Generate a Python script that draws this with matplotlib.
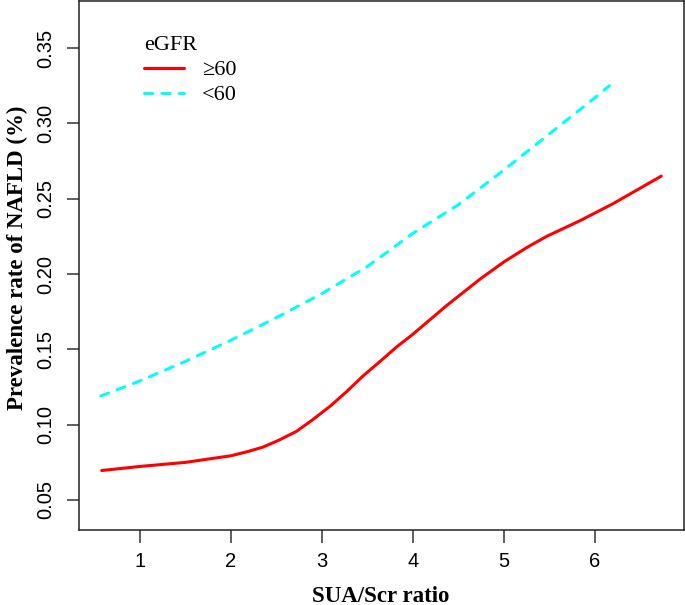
import numpy as np
import matplotlib
matplotlib.use('Agg')
import matplotlib.pyplot as plt
from matplotlib.ticker import MultipleLocator, FormatStrFormatter

# eGFR >= 60
x_hi = [0.58, 1.0, 1.5, 2.0, 2.18, 2.355, 2.54, 2.72, 2.9, 3.09, 3.27, 3.45, 3.64,
        3.82, 4.0, 4.37, 4.74, 5.0, 5.25, 5.47, 5.84, 6.20, 6.73]
y_hi = [0.0695, 0.0722, 0.0749, 0.0793, 0.0820, 0.0851, 0.0900, 0.0955, 0.1033, 0.1122,
        0.1218, 0.1322, 0.1420, 0.1515, 0.160, 0.179, 0.1967, 0.2080, 0.2175, 0.2250,
        0.2355, 0.2467, 0.265]

# eGFR < 60
x_lo = [0.57, 1.0, 1.5, 2.0, 2.5, 3.0, 3.5, 4.0, 4.5, 5.0, 5.5, 6.0, 6.16]
y_lo = [0.119, 0.129, 0.142, 0.156, 0.171, 0.187, 0.205, 0.227, 0.246, 0.269, 0.293, 0.317, 0.325]

x_ticks = [1, 2, 3, 4, 5, 6]
y_ticks = [0.05, 0.10, 0.15, 0.20, 0.25, 0.30, 0.35]
legend_labels = ['\u226560', '<60']


def main():
    fig = plt.figure(figsize=(6.85, 6.05), dpi=100)
    ax = fig.add_axes([79 / 685, 75 / 605, 605 / 685, 529 / 605])

    ax.plot(x_hi, y_hi, color='#FF0000', lw=2.2, solid_capstyle='round',
            solid_joinstyle='round', label=legend_labels[0])
    ax.plot(x_lo, y_lo, color='#00FFFF', lw=2.2, dashes=(2.7, 3.0),
            dash_capstyle='round', label=legend_labels[1])

    ax.set_xlim(0.33, 6.98)
    ax.set_ylim(0.03, 0.3813)
    ax.set_xticks(x_ticks)
    ax.set_yticks(y_ticks)
    ax.yaxis.set_major_formatter(FormatStrFormatter('%.2f'))

    for s in ax.spines.values():
        s.set_linewidth(1.1)
        s.set_color('#222222')

    ax.tick_params(which='major', direction='out', length=9, width=1.1,
                   color='#333333', labelsize=14.5, top=False, right=False)
    ax.tick_params(axis='x', pad=7)
    ax.tick_params(axis='y', pad=8)
    for lab in ax.get_xticklabels() + ax.get_yticklabels():
        lab.set_fontfamily('Liberation Sans')
    for lab in ax.get_yticklabels():
        lab.set_rotation(90)
        lab.set_va('center')

    fig.text(381 / 685, 1 - 596 / 605, 'SUA/Scr ratio', ha='center', va='center',
             fontsize=16.5, fontweight='bold', family='Liberation Serif')
    fig.text(17 / 685, 1 - 258 / 605, 'Prevalence rate of NAFLD (%)', ha='center',
             va='center', rotation=90, fontsize=16.5, fontweight='bold',
             family='Liberation Serif')

    leg = ax.legend(loc='upper left', bbox_to_anchor=(0.075, 0.971), frameon=False,
                    title='eGFR', alignment='left', handlelength=1.8,
                    handletextpad=0.8, labelspacing=0.2,
                    prop={'family': 'Liberation Serif', 'size': 16})
    leg.get_title().set_fontfamily('Liberation Serif')
    leg.get_title().set_fontsize(16)

    fig.savefig('out.png', dpi=100)


if __name__ == '__main__':
    main()
